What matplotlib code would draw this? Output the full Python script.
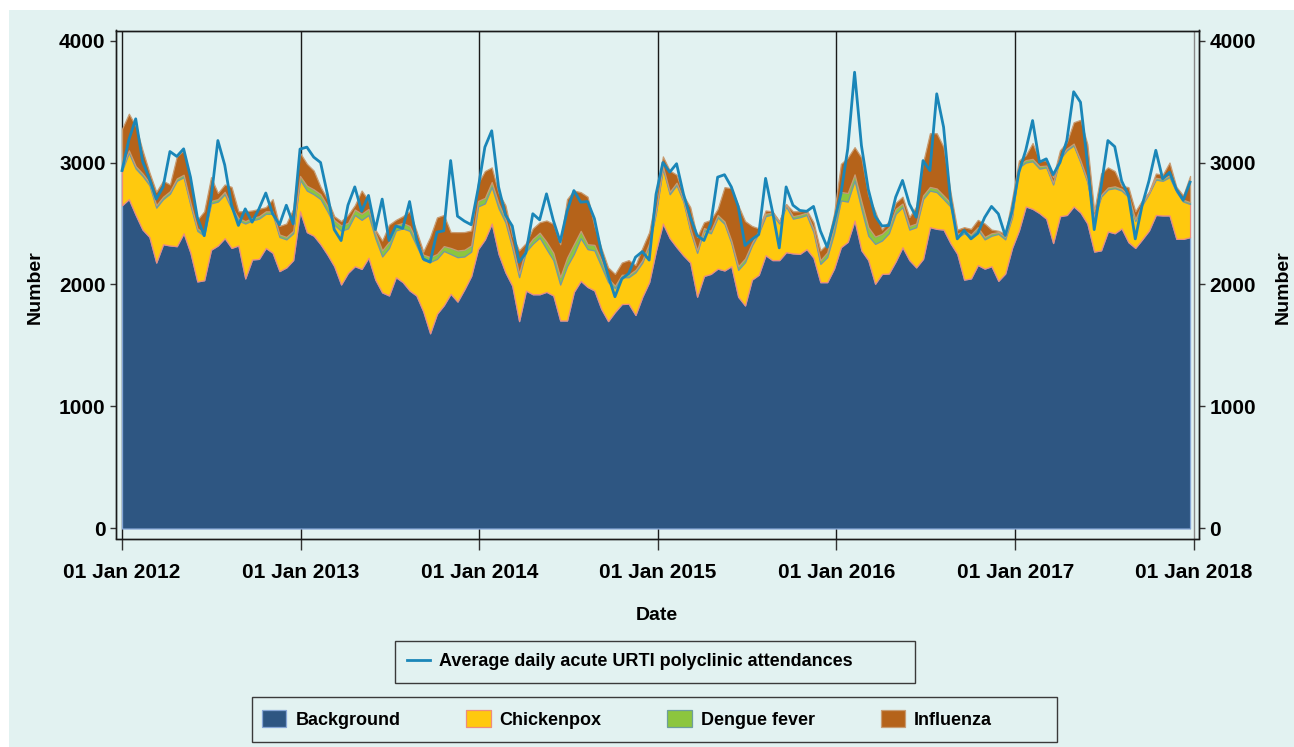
import datetime as dt
import matplotlib
matplotlib.use("Agg")
import matplotlib.pyplot as plt
import matplotlib.dates as mdates
from matplotlib.patches import Rectangle

# ---------------- data (fortnightly readings, first point 01 Jan 2012) ----------------
start_date = "2012-01-01"
step_days = 14

background = [
    2650, 2700, 2570, 2450, 2390, 2180, 2330, 2320, 2314, 2420, 2260, 2025, 2035, 2285, 2320, 2380, 2300, 2320, 2050, 2205, 2210, 2300, 2260, 2110, 2140, 2200,
    2600, 2429, 2400, 2330, 2245, 2150, 2000, 2095, 2150, 2128, 2220, 2040, 1935, 1910, 2060, 2020, 1951, 1910, 1780, 1600, 1760, 1830, 1924, 1860, 1960, 2070,
    2290, 2370, 2500, 2250, 2100, 1990, 1700, 1950, 1920, 1920, 1940, 1910, 1705, 1705, 1940, 2030, 1980, 1951, 1800, 1700, 1775, 1840, 1842, 1750, 1900, 2020,
    2280, 2500, 2380, 2306, 2238, 2180, 1900, 2070, 2087, 2130, 2115, 2150, 1900, 1828, 2040, 2080, 2240, 2200, 2200, 2265, 2255, 2251, 2290, 2220, 2019, 2019,
    2130, 2306, 2350, 2525, 2280, 2200, 2006, 2087, 2090, 2190, 2306, 2200, 2140, 2210, 2470, 2456, 2450, 2340, 2251, 2040, 2050, 2160, 2130, 2150, 2030, 2090,
    2300, 2443, 2640, 2620, 2585, 2540, 2340, 2560, 2570, 2640, 2590, 2500, 2270, 2280, 2435, 2420, 2460, 2347, 2300, 2370, 2443, 2570, 2566, 2566, 2374, 2374, 2388,
]
chickenpox = [
    284, 380, 380, 440, 425, 450, 370, 425, 536, 460, 390, 415, 365, 380, 360, 360, 320, 205, 450, 320, 330, 280, 319, 280, 230, 220,
    260, 341, 340, 370, 355, 340, 440, 365, 420, 402, 350, 340, 295, 390, 383, 440, 489, 410, 420, 585, 450, 445, 326, 364, 270, 200,
    350, 295, 300, 375, 410, 310, 360, 320, 415, 465, 350, 290, 295, 445, 311, 350, 310, 329, 350, 320, 195, 220, 218, 350, 280, 300,
    310, 450, 360, 509, 442, 260, 360, 373, 333, 420, 382, 190, 220, 355, 280, 340, 320, 375, 300, 375, 285, 301, 280, 210, 150, 205,
    290, 383, 330, 328, 340, 200, 327, 274, 330, 390, 328, 250, 330, 490, 300, 301, 250, 300, 134, 380, 340, 290, 240, 250, 385, 280,
    250, 517, 360, 390, 365, 420, 480, 470, 530, 500, 410, 340, 270, 440, 345, 370, 310, 369, 220, 280, 302, 290, 284, 314, 386, 306, 272,
]
dengue = [
    20, 20, 20, 20, 20, 20, 20, 20, 20, 20, 20, 20, 20, 20, 20, 20, 20, 20, 20, 20, 20, 20, 20, 20, 20, 20,
    30, 40, 40, 40, 45, 40, 45, 45, 45, 50, 50, 45, 50, 50, 45, 45, 40, 45, 45, 40, 40, 40, 50, 55, 55, 50,
    45, 45, 40, 40, 30, 30, 30, 30, 40, 40, 60, 60, 60, 70, 80, 60, 40, 45, 50, 30, 20, 20, 20, 20, 20, 20,
    20, 20, 20, 20, 15, 20, 20, 20, 20, 20, 20, 20, 30, 30, 20, 20, 20, 15, 15, 15, 20, 20, 20, 25, 30, 40,
    60, 70, 70, 50, 60, 70, 60, 55, 50, 40, 30, 30, 30, 30, 30, 30, 30, 30, 30, 20, 20, 20, 20, 20, 15, 20,
    20, 20, 20, 20, 20, 15, 15, 15, 15, 15, 15, 15, 15, 15, 15, 15, 15, 15, 15, 15, 10, 15, 15, 15, 15, 15, 15,
]
influenza = [
    322, 300, 330, 190, 85, 110, 130, 55, 180, 200, 190, 70, 180, 195, 50, 60, 160, 55, 80, 62, 60, 34, 101, 70, 110, 180,
    190, 180, 154, 60, 55, 30, 35, 65, 35, 190, 70, 25, 80, 140, 42, 55, 120, 75, 25, 165, 300, 255, 130, 150, 145, 123,
    145, 220, 120, 85, 110, 70, 190, 40, 85, 85, 175, 237, 270, 480, 439, 317, 390, 155, 100, 90, 97, 100, 120, 40, 100, 90,
    110, 80, 174, 65, 35, 174, 110, 47, 90, 50, 281, 430, 500, 307, 140, 20, 27, 10, 5, 5, 40, 28, 20, 55, 80, 69,
    100, 230, 290, 223, 360, 260, 207, 34, 50, 50, 56, 72, 140, 270, 440, 453, 396, 90, 35, 30, 46, 60, 110, 30, 10, 25,
    130, 36, 40, 130, 50, 41, 45, 55, 52, 175, 335, 295, 45, 175, 165, 125, 25, 67, 65, 25, 5, 35, 35, 105, 25, 35, 215,
]
urti_attendances = [
    2934, 3186, 3358, 3010, 2866, 2700, 2800, 3090, 3050, 3112, 2880, 2550, 2400, 2700, 3180, 2980, 2650, 2484, 2620, 2511, 2620, 2750, 2579, 2490, 2650, 2497,
    3110, 3126, 3044, 3000, 2740, 2450, 2360, 2650, 2800, 2600, 2730, 2450, 2700, 2361, 2480, 2460, 2680, 2370, 2210, 2183, 2429, 2440, 3016, 2560, 2520, 2490,
    2780, 3126, 3260, 2800, 2570, 2480, 2183, 2260, 2580, 2530, 2743, 2525, 2350, 2600, 2770, 2675, 2680, 2540, 2270, 2074, 1900, 2046, 2090, 2224, 2270, 2200,
    2740, 3000, 2921, 2990, 2743, 2552, 2402, 2361, 2500, 2880, 2900, 2800, 2640, 2320, 2370, 2410, 2870, 2600, 2300, 2800, 2650, 2607, 2600, 2640, 2440, 2306,
    2510, 2743, 3112, 3740, 3139, 2780, 2560, 2480, 2484, 2716, 2853, 2661, 2552, 3016, 2934, 3563, 3290, 2700, 2374, 2443, 2374, 2420, 2550, 2640, 2579, 2402,
    2600, 2920, 3100, 3344, 3003, 3030, 2900, 3000, 3180, 3580, 3494, 3000, 2450, 2800, 3180, 3130, 2850, 2730, 2374, 2650, 2850, 3100, 2866, 2920, 2780, 2690, 2839,
]
series_labels = ["Background", "Chickenpox", "Dengue fever", "Influenza"]
line_label = "Average daily acute URTI polyclinic attendances"
year_ticks = [2012, 2013, 2014, 2015, 2016, 2017, 2018]
y_ticks = [0, 1000, 2000, 3000, 4000]

# ---------------- style ----------------
BG = "#E2F2F1"
fills = ["#2E5682", "#FFC90E", "#8CC63E", "#B5631A"]
edges = ["#86A6D6", "#EE8C7C", "#6E9E9C", "#C89C72"]
LINE_C = "#1A86B8"

plt.rcParams["font.family"] = ["Liberation Sans", "DejaVu Sans"]
plt.rcParams["font.weight"] = "bold"

W, H = 1294, 747
fig = plt.figure(figsize=(W / 100, H / 100), dpi=100, facecolor="white")
fig.add_artist(Rectangle((9 / W, 0), 1 - 9 / W, 1 - 10 / H, transform=fig.transFigure,
                         facecolor=BG, edgecolor="none", zorder=-5))

ax = fig.add_axes([116 / W, 1 - 538.5 / H, 1083 / W, 508 / H])
ax.set_facecolor(BG)

t0 = dt.datetime.strptime(start_date, "%Y-%m-%d")
dates = [t0 + dt.timedelta(days=step_days * i) for i in range(len(background))]

for yr in year_ticks:
    ax.axvline(dt.datetime(yr, 1, 1), color="#888888" if yr == 2018 else "#1a1a1a",
               lw=1.0, zorder=1)

polys = ax.stackplot(dates, background, chickenpox, dengue, influenza,
                     colors=fills, labels=series_labels, zorder=2, lw=0.9)
for p, ec in zip(polys, edges):
    p.set_edgecolor(ec)
    p.set_linewidth(0.9)

line, = ax.plot(dates, urti_attendances, color=LINE_C, lw=2.0, zorder=4, label=line_label)

x_left = mdates.date2num(dt.datetime(2012, 1, 1)) - 12.3
x_right = mdates.date2num(dt.datetime(2018, 1, 1)) + 10.3
ax.set_xlim(x_left, x_right)
ax.set_ylim(-82, 4082)

ax.set_xticks([mdates.date2num(dt.datetime(y, 1, 1)) for y in year_ticks])
ax.set_xticklabels([f"01 Jan {y}" for y in year_ticks], fontsize=15, fontweight="bold")
ax.set_yticks(y_ticks)
ax.set_yticklabels([str(v) for v in y_ticks], fontsize=15, fontweight="bold")
ax.tick_params(axis="x", direction="out", length=8, width=1, pad=10, color="#333333")
ax.tick_params(axis="y", direction="out", length=4, width=1, pad=3.5, color="#333333")

ax2 = ax.twinx()
ax2.set_ylim(ax.get_ylim())
ax2.set_yticks(y_ticks)
ax2.set_yticklabels([str(v) for v in y_ticks], fontsize=15, fontweight="bold")
ax2.tick_params(axis="y", direction="out", length=4, width=1, pad=3.5, color="#333333")

for a in (ax, ax2):
    for s in a.spines.values():
        s.set_color("#1a1a1a")
        s.set_linewidth(1.0)

ax.set_ylabel("Number", fontsize=14, fontweight="bold", va="center", ha="center")
ax.yaxis.set_label_coords((35 - 116) / 1083, 0.495)
ax2.set_ylabel("Number", fontsize=14, fontweight="bold", va="center", ha="center",
               rotation=90)
ax2.yaxis.set_label_coords((1283 - 116) / 1083, 0.495)
ax.set_xlabel("Date", fontsize=14, fontweight="bold", va="center", ha="center")
ax.xaxis.set_label_coords(0.4995, (538.5 - 616) / 508)

# ---------------- legends ----------------
lp = {"size": 13, "weight": "bold"}
fig.add_artist(Rectangle((395 / W, 1 - 683 / H), 520 / W, 42 / H, transform=fig.transFigure,
                         facecolor="none", edgecolor="#3a3a3a", lw=1.0))
fig.legend([line], [line_label], loc="center left", bbox_to_anchor=(407 / W, 1 - 662 / H),
           frameon=False, handlelength=1.25, handletextpad=0.5, borderpad=0, borderaxespad=0,
           prop=lp)

fig.add_artist(Rectangle((252 / W, 1 - 742 / H), 805 / W, 45 / H, transform=fig.transFigure,
                         facecolor="none", edgecolor="#3a3a3a", lw=1.0))
fig.legend(polys, series_labels, loc="center", ncol=4, mode="expand",
           bbox_to_anchor=(262 / W, 1 - 742 / H, (992 - 262) / W, 45 / H),
           frameon=False, handlelength=1.35, handleheight=1.0, handletextpad=0.5,
           borderpad=0, borderaxespad=0, prop=lp)

fig.savefig("out.png", dpi=100, facecolor="white")
